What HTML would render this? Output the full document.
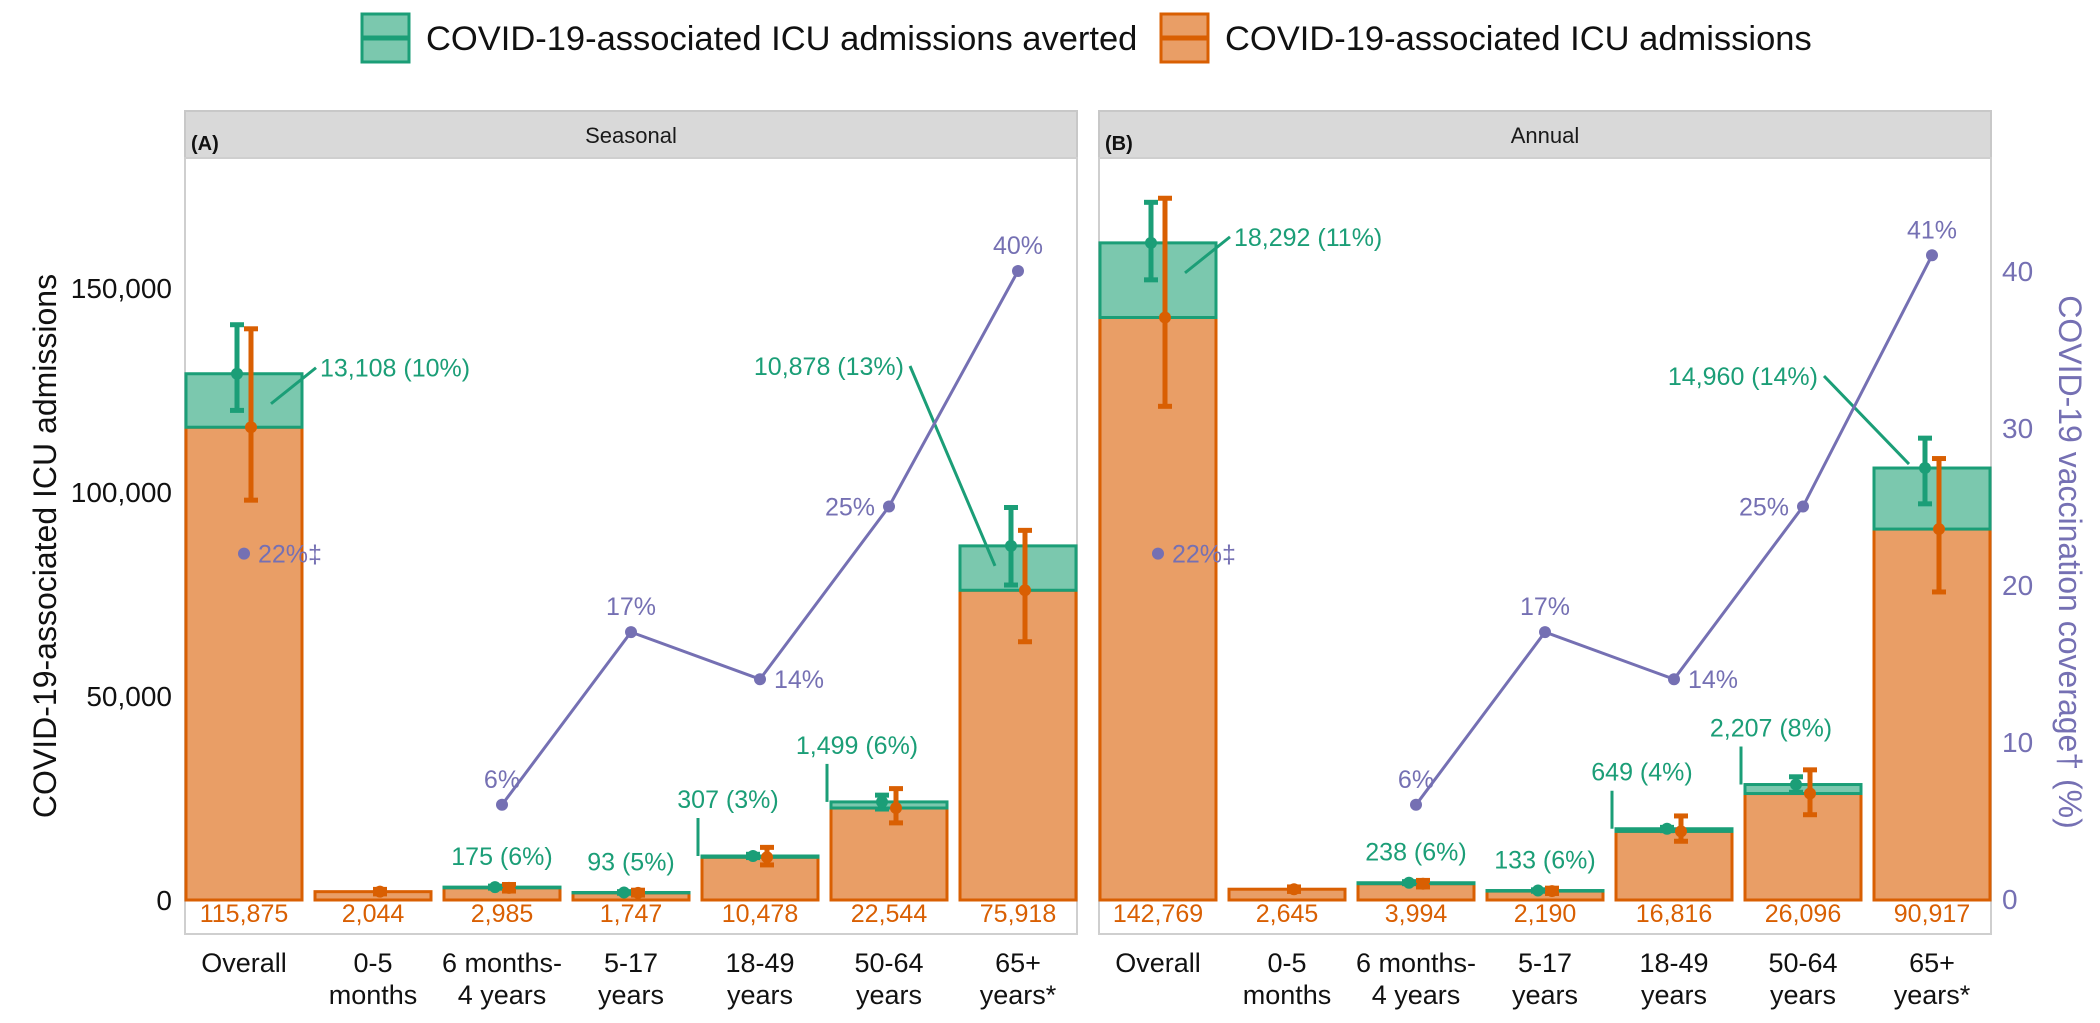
<!DOCTYPE html>
<html><head><meta charset="utf-8">
<style>
html,body{margin:0;padding:0;background:#fff;}
svg{display:block;font-family:"Liberation Sans",Arial,sans-serif;}
</style></head>
<body>
<svg id="chart" width="2100" height="1023" viewBox="0 0 2100 1023" xmlns="http://www.w3.org/2000/svg">
  <g>
    <g>
      <rect x="362" y="14" width="47" height="48" fill="#7bc8ae" stroke="#1b9e77" stroke-width="3"/>
      <line x1="362" y1="38" x2="409" y2="38" stroke="#1b9e77" stroke-width="5"/>
      <text x="426" y="50" font-size="34.5" fill="#111">COVID-19-associated ICU admissions averted</text>
    </g>
    <g>
      <rect x="1161" y="14" width="47" height="48" fill="#e99e66" stroke="#d95f02" stroke-width="3"/>
      <line x1="1161" y1="38" x2="1208" y2="38" stroke="#d95f02" stroke-width="5"/>
      <text x="1225" y="50" font-size="34.5" fill="#111">COVID-19-associated ICU admissions</text>
    </g>
  </g>
  <text transform="translate(56,546) rotate(-90)" text-anchor="middle" font-size="32" fill="#111">COVID-19-associated ICU admissions</text>
  <text transform="translate(2059,562) rotate(90)" text-anchor="middle" font-size="32" fill="#7570b3">COVID-19 vaccination coverage† (%)</text>
  <g id="panels"></g>
</svg>
<script>
const categories = ["Overall","0-5|months","6 months-|4 years","5-17|years","18-49|years","50-64|years","65+|years*"];
const seasonalAdmissions = [115875,2044,2985,1747,10478,22544,75918];
const seasonalAverted = [13108,0,175,93,307,1499,10878];
const seasonalAvertedPct = ["10%","","6%","5%","3%","6%","13%"];
const seasonalAdmLo = [98000,1500,2200,1200,8600,18900,63300];
const seasonalAdmHi = [140000,2600,3800,2400,12900,27300,90600];
const seasonalTotLo = [120000,2044,2900,1650,10400,22300,77200];
const seasonalTotHi = [141000,2044,3400,2050,11200,25700,96200];
const seasonalCoverage = [22,null,6,17,14,25,40];
const annualAdmissions = [142769,2645,3994,2190,16816,26096,90917];
const annualAverted = [18292,0,238,133,649,2207,14960];
const annualAvertedPct = ["11%","","6%","6%","4%","8%","14%"];
const annualAdmLo = [121000,2100,3200,1600,14400,20900,75500];
const annualAdmHi = [172000,3200,4800,2900,20600,31900,108200];
const annualTotLo = [152000,2645,4000,2150,17000,26400,97100];
const annualTotHi = [171000,2645,4500,2500,17800,30200,113200];
const annualCoverage = [22,null,6,17,14,25,41];
const yTicks = [0,50000,100000,150000];
const yTickLabels = ["0","50,000","100,000","150,000"];
const y2Ticks = [0,10,20,30,40];

const NS="http://www.w3.org/2000/svg";
const G="#1b9e77", O="#d95f02", P="#7570b3";
const y0=900, k=4.08/1000, plotTop=158, plotBot=934;
function yv(v){return y0-v*k;}
function yc(p){return 899-p*15.7;}
function mk(tag,attrs,parent,txt){const e=document.createElementNS(NS,tag);for(const a in attrs)e.setAttribute(a,attrs[a]);if(txt!==undefined)e.textContent=txt;parent.appendChild(e);return e;}
function fmt(n){return n.toLocaleString("en-US");}
const root=document.getElementById("panels");

function panel(px,title,tag,adm,avt,pct,aLo,aHi,tLo,tHi,cov,key,lab6y,end6off){
  const w=892, u=129, bw=116;
  const xc=i=>px+bw/2+i*u+1;
  const g=mk("g",{},root);
  
  
  const strip=mk("rect",{x:px,y:111,width:w,height:47,fill:"#d9d9d9",stroke:"#c8c8c8","stroke-width":2},g);
  
  
  const st=mk("text",{x:px+w/2,y:143,"text-anchor":"middle","font-size":22,fill:"#1a1a1a"},g,title);
  
  
  const border=mk("rect",{x:px,y:plotTop,width:w,height:plotBot-plotTop,fill:"none",stroke:"#cfcfcf","stroke-width":2},g);
  
  
  const tg=mk("text",{x:px+6,y:150,"font-size":20,"font-weight":"bold",fill:"#111"},g,tag);
  
  
  for(let i=0;i<categories.length;i++){
    const x=xc(i), L=x-bw/2;
    const ra=mk("rect",{x:L,y:yv(adm[i]),width:bw,height:y0-yv(adm[i]),fill:"#e99e66",stroke:O,"stroke-width":3},g);
    
    
    if(avt[i]>0){
      const rv=mk("rect",{x:L,y:yv(adm[i]+avt[i]),width:bw,height:avt[i]*k,fill:"#7bc8ae",stroke:G,"stroke-width":3},g);
      
      
    }
    const xg=x-7, xo=x+7;
    if(avt[i]>0){
      const eg=mk("g",{},g);
      
      
      mk("line",{x1:xg,x2:xg,y1:yv(tHi[i]),y2:yv(tLo[i]),stroke:G,"stroke-width":5},eg);
      mk("line",{x1:xg-7,x2:xg+7,y1:yv(tHi[i]),y2:yv(tHi[i]),stroke:G,"stroke-width":5},eg);
      mk("line",{x1:xg-7,x2:xg+7,y1:yv(tLo[i]),y2:yv(tLo[i]),stroke:G,"stroke-width":5},eg);
      mk("circle",{cx:xg,cy:yv(adm[i]+avt[i]),r:6,fill:G},eg);
    }
    const eo=mk("g",{},g);
    
    
    mk("line",{x1:xo,x2:xo,y1:yv(aHi[i]),y2:yv(aLo[i]),stroke:O,"stroke-width":5},eo);
    mk("line",{x1:xo-7,x2:xo+7,y1:yv(aHi[i]),y2:yv(aHi[i]),stroke:O,"stroke-width":5},eo);
    mk("line",{x1:xo-7,x2:xo+7,y1:yv(aLo[i]),y2:yv(aLo[i]),stroke:O,"stroke-width":5},eo);
    mk("circle",{cx:xo,cy:yv(adm[i]),r:6,fill:O},eo);
    const vl=mk("text",{x:x,y:922,"text-anchor":"middle","font-size":25,fill:O},g,fmt(adm[i]));
    
    
    const parts=categories[i].split("|");
    parts.forEach((p,j)=>{
      const xl=mk("text",{x:x,y:972+j*32,"text-anchor":"middle","font-size":27,fill:"#111"},g,p);
      
      
    });
    if(avt[i]>0){
      const top=yv(adm[i]+avt[i]);
      const txt=fmt(avt[i])+" ("+pct[i]+")";
      let t;
      if(i===0){
        mk("line",{x1:x+27,y1:top+30,x2:x+72,y2:top-6,stroke:G,"stroke-width":3},g);
        t=mk("text",{x:x+76,y:top+3,"font-size":25,fill:G},g,txt);
      } else if(i===6){
        mk("line",{x1:x-108,y1:lab6y-9,x2:x-23,y2:top+end6off,stroke:G,"stroke-width":3},g);
        t=mk("text",{x:x-114,y:lab6y,"text-anchor":"end","font-size":25,fill:G},g,txt);
      } else if(i>=4){
        const lx=x-62;
        mk("line",{x1:lx,y1:top,x2:lx,y2:top-38,stroke:G,"stroke-width":3},g);
        t=mk("text",{x:lx+30,y:top-48,"text-anchor":"middle","font-size":25,fill:G},g,txt);
      } else {
        t=mk("text",{x:x,y:top-22,"text-anchor":"middle","font-size":25,fill:G},g,txt);
      }
      
      
    }
  }
  const pts=[];
  for(let i=2;i<cov.length;i++) pts.push(xc(i)+","+yc(cov[i]));
  const pl=mk("polyline",{points:pts.join(" "),fill:"none",stroke:P,"stroke-width":3},g);
  
  
  for(let i=0;i<cov.length;i++){
    if(cov[i]===null)continue;
    const x=xc(i), y=yc(cov[i]);
    const c=mk("circle",{cx:x,cy:y,r:6,fill:P},g);
    
    
    let attrs;
    if(i===0) attrs={x:x+14,y:y+9,"text-anchor":"start"};
    else if(i===4) attrs={x:x+14,y:y+9,"text-anchor":"start"};
    else if(i===5) attrs={x:x-14,y:y+9,"text-anchor":"end"};
    else attrs={x:x,y:y-17,"text-anchor":"middle"};
    attrs["font-size"]=25; attrs.fill=P;
    const lt=mk("text",attrs,g,cov[i]+"%"+(i===0?"‡":""));
    
    
  }
}

panel(185,"Seasonal","(A)",seasonalAdmissions,seasonalAverted,seasonalAvertedPct,seasonalAdmLo,seasonalAdmHi,seasonalTotLo,seasonalTotHi,seasonalCoverage,"seasonal",375,20);
panel(1099,"Annual","(B)",annualAdmissions,annualAverted,annualAvertedPct,annualAdmLo,annualAdmHi,annualTotLo,annualTotHi,annualCoverage,"annual",385,-4);

const ax=mk("g",{},root);


yTicks.forEach((v,i)=>{
  const t=mk("text",{x:172,y:yv(v)+10,"text-anchor":"end","font-size":28,fill:"#111"},ax,yTickLabels[i]);
  
  
});
const ax2=mk("g",{},root);


y2Ticks.forEach(v=>{
  const t=mk("text",{x:2002,y:yc(v)+10,"font-size":28,fill:P},ax2,String(v));
  
  
});
</script>
</body></html>
